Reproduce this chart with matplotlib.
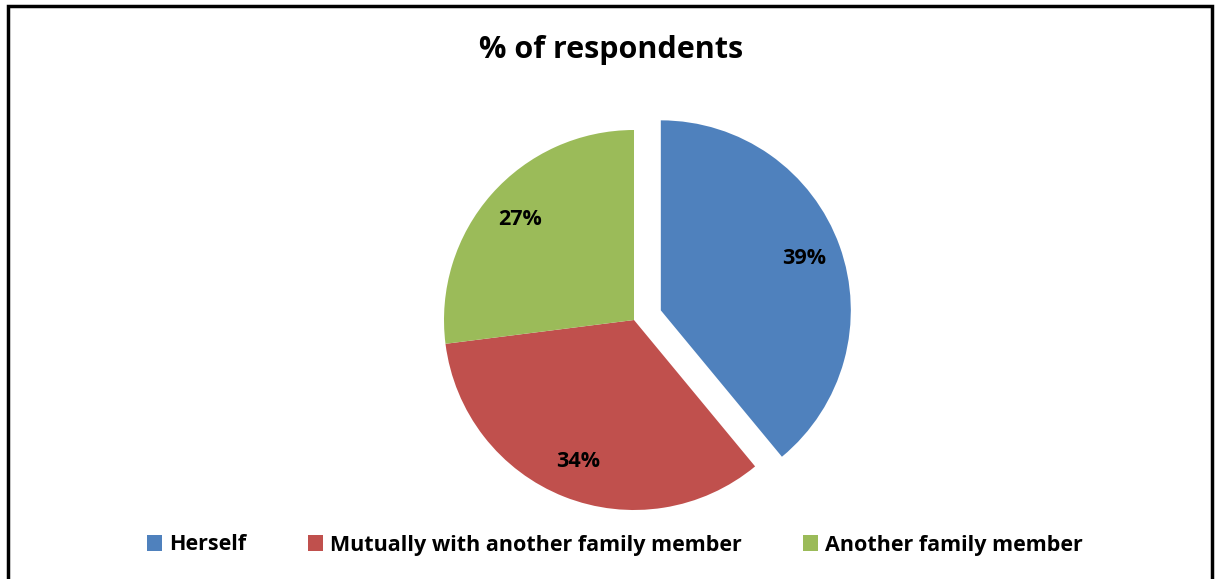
import matplotlib.pyplot as plt
from matplotlib.patches import Rectangle

categories = ['Herself', 'Mutually with another family member', 'Another family member']
shares = [39, 34, 27]
colors = ['#4F81BD', '#C0504D', '#9BBB59']
explode = [0.15, 0, 0]

plt.rcParams['font.family'] = ['Open Sans', 'DejaVu Sans']

W, H = 1216, 579
fig = plt.figure(figsize=(W / 100, H / 100), dpi=100)

# pie centre ~ (634, 320) px from top-left, radius ~190 px
cx, cy, half = 634, H - 320, 250
ax = fig.add_axes([(cx - half) / W, (cy - half) / H, 2 * half / W, 2 * half / H])
wedges, texts, autotexts = ax.pie(
    shares, colors=colors, explode=explode, startangle=90, counterclock=False,
    autopct='%1.0f%%', pctdistance=0.8,
    textprops=dict(fontsize=15.5, fontweight='bold', color='black'))
lim = half / 190
ax.set_xlim(-lim, lim)
ax.set_ylim(-lim, lim)
ax.set_aspect('equal')
ax.axis('off')

fig.text(611 / W, 1 - 50 / H, '% of respondents', ha='center', va='center',
         fontsize=22, fontweight='bold')

leg = fig.legend(wedges, categories, loc='center', bbox_to_anchor=(615 / W, 1 - 545 / H),
                 ncol=3, frameon=False, handlelength=0.7, handleheight=0.7,
                 handletextpad=0.33, columnspacing=2.85,
                 prop=dict(size=15.5, weight='bold'))

# outer chart frame
fig.patches.append(Rectangle((7.5 / W, -0.05), (1212 - 7.5) / W, 1 - 6 / H + 0.05,
                             transform=fig.transFigure, fill=False,
                             edgecolor='black', linewidth=2.5))

fig.savefig('out.png', dpi=100)
